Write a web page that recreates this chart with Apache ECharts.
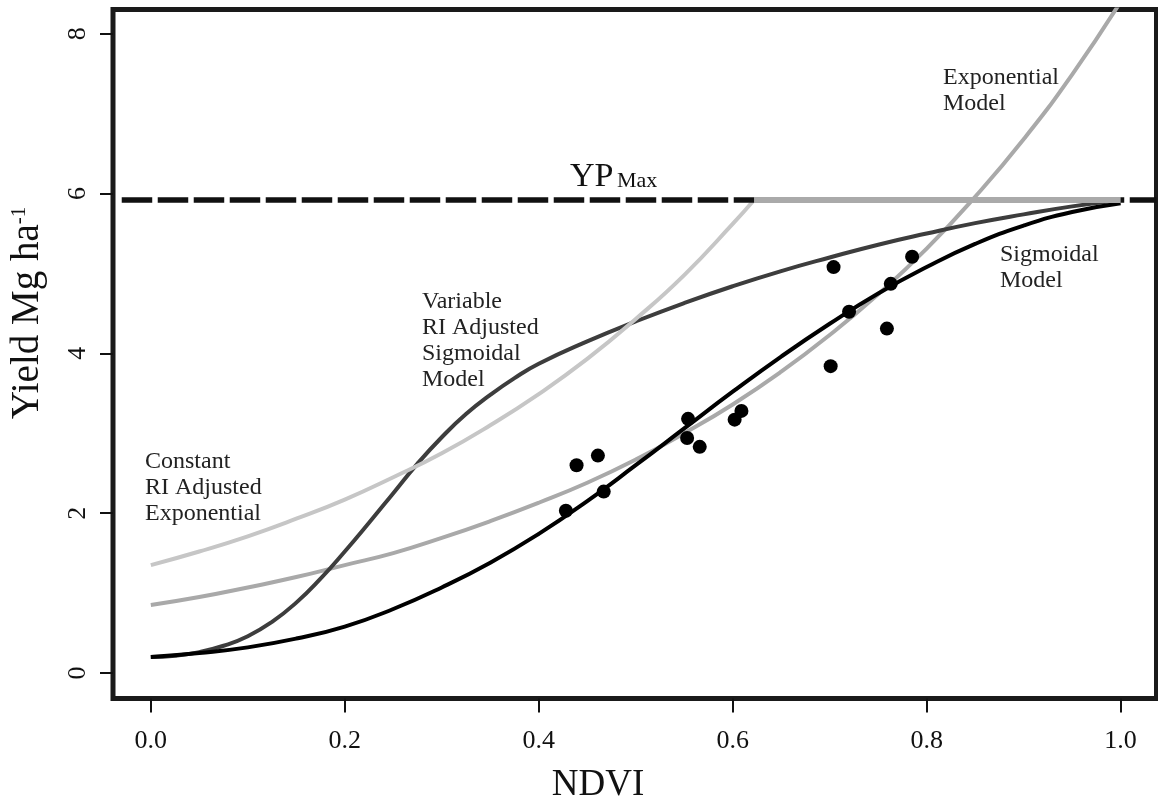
<!DOCTYPE html>
<html>
<head>
<meta charset="utf-8">
<title>Yield vs NDVI</title>
<script src="https://cdn.jsdelivr.net/npm/echarts@6/dist/echarts.min.js"></script>
<style>
  html, body { margin: 0; padding: 0; background: #fff; }
  #chart { width: 1158px; height: 805px; }
</style>
</head>
<body>
<div id="chart"></div>
<script>
// NDVI steps the fitted curves were read at
const ndvi = [0, 0.05, 0.1, 0.15, 0.2, 0.25, 0.3, 0.35, 0.4, 0.45, 0.5,
  0.55, 0.6, 0.65, 0.7, 0.75, 0.8, 0.85, 0.9, 0.95, 1.0];

// Sigmoidal Model (black)
const sigmoidModel = [0.20, 0.25, 0.32, 0.43, 0.58, 0.80, 1.07, 1.38, 1.74, 2.15, 2.60,
  3.06, 3.52, 3.96, 4.37, 4.75, 5.08, 5.37, 5.60, 5.77, 5.88];

// Variable RI Adjusted Sigmoidal Model (dark grey), read finer where it bends
const variableRiNdvi = [0, 0.025, 0.05, 0.075, 0.1, 0.125, 0.15, 0.175, 0.2, 0.225, 0.25,
  0.275, 0.3, 0.325, 0.35, 0.375, 0.4, 0.45, 0.5, 0.55, 0.6, 0.65, 0.7, 0.75, 0.8,
  0.85, 0.9, 0.95, 1.0];
const variableRiSigmoid = [0.20, 0.215, 0.26, 0.34, 0.46, 0.64, 0.88, 1.18, 1.52, 1.88, 2.25,
  2.62, 2.95, 3.24, 3.48, 3.69, 3.87, 4.15, 4.40, 4.63, 4.84, 5.03, 5.20, 5.36, 5.50,
  5.63, 5.74, 5.84, 5.92];

// Exponential Model (mid grey), runs out of the top of the plot
const exponentialModel = [0.85, 0.95, 1.07, 1.20, 1.35, 1.50, 1.69, 1.90, 2.13, 2.38, 2.67,
  3.00, 3.36, 3.77, 4.23, 4.74, 5.31, 5.96, 6.68, 7.49, 8.40];

// Constant RI Adjusted Exponential (light grey), stops at YPmax
const constRiNdvi = [0, 0.05, 0.1, 0.15, 0.2, 0.25, 0.3, 0.35, 0.4, 0.45, 0.5, 0.55, 0.6, 0.622];
const constRiExp = [1.35, 1.52, 1.71, 1.93, 2.17, 2.45, 2.75, 3.10, 3.49, 3.93, 4.43, 4.98, 5.62, 5.92];

// YPmax plateau
const ypMax = 5.92;
const ypLineNdvi = [-0.03, 1.037];
const plateauNdvi = [0.622, 1.0];

// observed plots
const obsNdvi = [0.428, 0.439, 0.461, 0.467, 0.553, 0.554, 0.566, 0.602, 0.609,
  0.701, 0.704, 0.720, 0.759, 0.763, 0.785];
const obsYield = [2.03, 2.60, 2.72, 2.27, 2.94, 3.18, 2.83, 3.17, 3.28,
  3.84, 5.08, 4.52, 4.31, 4.87, 5.21];

const xTicks = [0, 0.2, 0.4, 0.6, 0.8, 1.0];
const yTicks = [0, 2, 4, 6, 8];

const serif = "'Liberation Serif', 'DejaVu Serif', serif";

function pairs(xs, ys) {
  return xs.map((x, i) => [x, ys[i]]);
}

const myChart = echarts.init(document.getElementById('chart'));

myChart.setOption({
  animation: false,
  backgroundColor: '#fff',
  grid: {
    left: 113,
    top: 9.5,
    right: 1.5,
    bottom: 106.5,
    show: true,
    borderColor: '#1a1a1a',
    borderWidth: 5,
    backgroundColor: 'transparent'
  },
  xAxis: {
    type: 'value',
    min: -0.039,
    max: 1.037,
    axisLine: { show: false, onZero: false },
    splitLine: { show: false },
    axisTick: {
      customValues: xTicks,
      length: 14,
      lineStyle: { color: '#111', width: 2 }
    },
    axisLabel: {
      customValues: xTicks,
      formatter: v => v.toFixed(1),
      fontFamily: serif,
      fontSize: 26,
      color: '#111',
      margin: 30
    }
  },
  yAxis: {
    type: 'value',
    min: -0.32,
    max: 8.304,
    axisLine: { show: false, onZero: false },
    splitLine: { show: false },
    axisTick: {
      customValues: yTicks,
      length: 13,
      lineStyle: { color: '#111', width: 2 }
    },
    axisLabel: {
      customValues: yTicks,
      rotate: 90,
      fontFamily: serif,
      fontSize: 26,
      color: '#111',
      margin: 22
    }
  },
  graphic: [
    {
      type: 'text', x: 28, y: 313, rotation: Math.PI / 2,
      style: {
        text: '{a|Yield Mg ha}{b|-1}',
        align: 'center', verticalAlign: 'middle',
        rich: {
          a: { fontFamily: serif, fontSize: 39, fill: '#111', verticalAlign: 'bottom' },
          b: { fontFamily: serif, fontSize: 21, fill: '#111', verticalAlign: 'top' }
        }
      }
    },
    {
      type: 'text', x: 598, y: 785,
      style: { text: 'NDVI', font: '37px ' + serif, fill: '#111', align: 'center', verticalAlign: 'middle' }
    },
    {
      type: 'text', x: 570, y: 177,
      style: { text: 'YP', font: '34px ' + serif, fill: '#111', align: 'left', verticalAlign: 'middle' }
    },
    {
      type: 'text', x: 617, y: 181,
      style: { text: 'Max', font: '22px ' + serif, fill: '#111', align: 'left', verticalAlign: 'middle' }
    },
    {
      type: 'text', x: 145, y: 449,
      style: { text: 'Constant\nRI Adjusted\nExponential', font: '24px ' + serif, lineHeight: 26, fill: '#222', align: 'left', verticalAlign: 'top' }
    },
    {
      type: 'text', x: 422, y: 289,
      style: { text: 'Variable\nRI Adjusted\nSigmoidal\nModel', font: '24px ' + serif, lineHeight: 26, fill: '#222', align: 'left', verticalAlign: 'top' }
    },
    {
      type: 'text', x: 943, y: 65,
      style: { text: 'Exponential\nModel', font: '24px ' + serif, lineHeight: 26, fill: '#222', align: 'left', verticalAlign: 'top' }
    },
    {
      type: 'text', x: 1000, y: 242,
      style: { text: 'Sigmoidal\nModel', font: '24px ' + serif, lineHeight: 26, fill: '#222', align: 'left', verticalAlign: 'top' }
    }
  ],
  series: [
    {
      name: 'Exponential Model',
      type: 'line',
      data: pairs(ndvi, exponentialModel),
      smooth: true,
      showSymbol: false,
      lineStyle: { color: '#a9a9a9', width: 4 }
    },
    {
      name: 'Variable RI Adjusted Sigmoidal Model',
      type: 'line',
      data: pairs(variableRiNdvi, variableRiSigmoid),
      smooth: true,
      showSymbol: false,
      lineStyle: { color: '#3d3d3d', width: 4 }
    },
    {
      name: 'Constant RI Adjusted Exponential',
      type: 'line',
      data: pairs(constRiNdvi, constRiExp),
      smooth: true,
      showSymbol: false,
      lineStyle: { color: '#c6c6c6', width: 4 }
    },
    {
      name: 'Sigmoidal Model',
      type: 'line',
      data: pairs(ndvi, sigmoidModel),
      smooth: true,
      showSymbol: false,
      lineStyle: { color: '#000', width: 4 }
    },
    {
      name: 'YPmax',
      type: 'line',
      data: pairs(ypLineNdvi, [ypMax, ypMax]),
      showSymbol: false,
      z: 3,
      lineStyle: { color: '#111', width: 5.5, type: [30.5, 5.5], cap: 'butt' }
    },
    {
      name: 'Plateau',
      type: 'line',
      data: pairs(plateauNdvi, [ypMax, ypMax]),
      showSymbol: false,
      z: 4,
      lineStyle: { color: '#aaaaaa', width: 6, type: 'solid' }
    },
    {
      name: 'Observed',
      type: 'scatter',
      data: pairs(obsNdvi, obsYield),
      symbol: 'circle',
      symbolSize: 14,
      z: 5,
      itemStyle: { color: '#000', opacity: 1 }
    }
  ]
});
</script>
</body>
</html>
